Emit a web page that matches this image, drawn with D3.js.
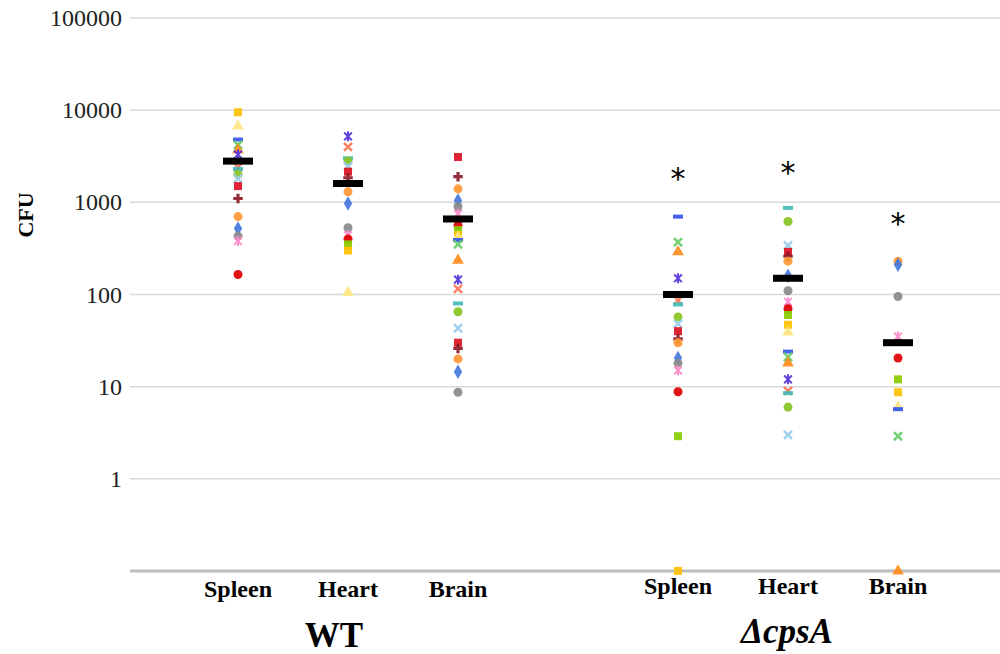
<!DOCTYPE html>
<html>
<head>
<meta charset="utf-8">
<script src="https://cdn.jsdelivr.net/npm/d3@7"></script>
<style>
  body { margin: 0; background: #fff; }
  svg { display: block; }
  .tick-label { font-family: "Liberation Serif", serif; font-size: 24px; fill: #222; }
  .cat-label { font-family: "Liberation Serif", serif; font-size: 24px; font-weight: bold; fill: #000; }
  .grp-label { font-family: "Liberation Serif", serif; font-size: 35px; font-weight: bold; fill: #000; }
</style>
</head>
<body>
<div id="chart"></div>
<script>
/* CFU per organ, WT vs ΔcpsA, one marker per animal */

// categories (an empty slot between the two strains)
const categories = ['WT-Spleen', 'WT-Heart', 'WT-Brain', 'gap', 'KO-Spleen', 'KO-Heart', 'KO-Brain']
const catLabels = ['Spleen', 'Heart', 'Brain', '', 'Spleen', 'Heart', 'Brain']

// the values (0.1 = sits on the axis, i.e. 0 CFU)
const wtSpleen = [9500, 6700, 4800, 4200, 3700, 3300, 2400, 2300, 2000, 1800, 1500, 1100, 700, 520, 430, 380, 165]
const wtHeart = [5200, 4000, 3000, 2800, 2450, 2150, 1850, 1300, 970, 530, 440, 400, 350, 300, 105]
const wtBrain = [3100, 1900, 1400, 1050, 900, 750, 560, 500, 440, 420, 390, 350, 235, 145, 115, 80, 65, 43, 30, 26, 20, 14.5, 8.7]
const koSpleen = [700, 370, 290, 150, 86, 78, 57, 48, 40, 33, 30, 20.5, 18, 15, 8.8, 2.9, 0.1]
const koHeart = [870, 620, 340, 290, 260, 230, 160, 110, 83, 70, 60, 47, 39, 24, 21, 18, 12, 9, 8.5, 6, 3]
const koBrain = [230, 210, 95, 35, 20.5, 12, 8.7, 6, 5.7, 2.9, 0.1]
const series = [wtSpleen, wtHeart, wtBrain, [], koSpleen, koHeart, koBrain]

// mean bars and significance marks
const means = [2800, 1600, 660, null, 100, 150, 30]
const stars = [null, null, null, null, 2080, 2430, 670]

const yTicks = [1, 10, 100, 1000, 10000, 100000]

// excel-ish marker palette
const markers = [
	{shape: 'square', color: '#ffc000'},
	{shape: 'triangle', color: '#ffe680'},
	{shape: 'dash', color: '#3355ee'},
	{shape: 'x', color: '#66cc66'},
	{shape: 'triangle', color: '#ff8c1a'},
	{shape: 'star', color: '#5533dd'},
	{shape: 'x', color: '#ff7755'},
	{shape: 'dash', color: '#44bbbb'},
	{shape: 'circle', color: '#88c424'},
	{shape: 'x', color: '#99ccee'},
	{shape: 'square', color: '#dd1122'},
	{shape: 'plus', color: '#8b1a2a'},
	{shape: 'circle', color: '#ff9933'},
	{shape: 'diamond', color: '#4477dd'},
	{shape: 'circle', color: '#8a8a8a'},
	{shape: 'star', color: '#ff88cc'},
	{shape: 'circle', color: '#dd0000'},
	{shape: 'square', color: '#88cc00'}
]

const width = 1000
const height = 654

const svg = d3.select('#chart').append('svg')
	.attr('width', width)
	.attr('height', height)

const x = d3.scalePoint()
	.domain(categories)
	.range([238, 898])

const y = d3.scaleLog()
	.domain([0.1, 100000])
	.range([571, 18])

//gridlines
svg.append('g').selectAll('line')
	.data(yTicks)
	.join('line')
	.attr('x1', 130).attr('x2', width)
	.attr('y1', d => y(d)).attr('y2', d => y(d))
	.attr('stroke', '#d9d9d9')
	.attr('stroke-width', 1.5)

//bottom axis line
svg.append('line')
	.attr('x1', 130).attr('x2', width)
	.attr('y1', y(0.1)).attr('y2', y(0.1))
	.attr('stroke', '#bdbdbd')
	.attr('stroke-width', 3)

//y labels
svg.append('g').selectAll('text')
	.data(yTicks)
	.join('text')
	.attr('class', 'tick-label')
	.attr('x', 122)
	.attr('y', d => y(d) + 8)
	.attr('text-anchor', 'end')
	.text(d => d)

svg.append('text')
	.attr('class', 'cat-label')
	.attr('transform', 'translate(33,215) rotate(-90)')
	.attr('text-anchor', 'middle')
	.style('font-size', '22px')
	.text('CFU')

//category labels
svg.append('g').selectAll('text')
	.data(categories)
	.join('text')
	.attr('class', 'cat-label')
	.attr('x', d => x(d))
	.attr('y', (d, i) => i < 3 ? 597 : 594)
	.attr('text-anchor', 'middle')
	.text((d, i) => catLabels[i])

svg.append('text')
	.attr('class', 'grp-label')
	.attr('x', 334).attr('y', 647)
	.attr('text-anchor', 'middle')
	.text('WT')

svg.append('text')
	.attr('class', 'grp-label')
	.attr('x', 787).attr('y', 643)
	.attr('text-anchor', 'middle')
	.style('font-style', 'italic')
	.text('\u0394cpsA')

//marker path
const symbolFor = {
	square: d3.symbolSquare,
	triangle: d3.symbolTriangle,
	circle: d3.symbolCircle,
	diamond: d3.symbolDiamond,
	plus: d3.symbolCross,
	x: d3.symbolX
}
function drawMarker(g, m) {
	if (m.shape === 'dash') {
		g.append('rect').attr('x', -5).attr('y', -2).attr('width', 10).attr('height', 4).attr('fill', m.color)
	} else if (m.shape === 'star') {
		g.append('path').attr('d', d3.symbol(d3.symbolX, 40)()).attr('stroke', m.color).attr('stroke-width', 2).attr('fill', 'none')
		g.append('line').attr('y1', -5).attr('y2', 5).attr('stroke', m.color).attr('stroke-width', 2)
	} else if (m.shape === 'x') {
		g.append('path').attr('d', d3.symbol(d3.symbolX, 45)()).attr('stroke', m.color).attr('stroke-width', 2.5).attr('fill', 'none')
	} else if (m.shape === 'plus') {
		g.append('path').attr('d', d3.symbol(d3.symbolCross, 50)()).attr('fill', m.color)
	} else {
		const size = m.shape === 'triangle' ? 60 : m.shape === 'diamond' ? 60 : 64
		g.append('path').attr('d', d3.symbol(symbolFor[m.shape], size)()).attr('fill', m.color)
	}
}

const pointsG = svg.append('g')
categories.forEach(function(c, ci) {
	series[ci].forEach(function(v, i) {
		const g = pointsG.append('g')
			.attr('transform', `translate(${x(c)},${y(v)})`)
			.style('opacity', 0.92)
		drawMarker(g, markers[(i + ci * 5) % markers.length])
	})
})

//mean bars
svg.append('g').selectAll('rect')
	.data(categories.filter((c, i) => means[i] !== null))
	.join('rect')
	.attr('x', d => x(d) - 15)
	.attr('y', d => y(means[categories.indexOf(d)]) - 3.5)
	.attr('width', 30)
	.attr('height', 7)
	.attr('fill', '#000')

//asterisks
svg.append('g').selectAll('text')
	.data(categories.filter((c, i) => stars[i] !== null))
	.join('text')
	.attr('x', d => x(d))
	.attr('y', d => y(stars[categories.indexOf(d)]) + 16)
	.attr('text-anchor', 'middle')
	.style('font-family', '"DejaVu Sans", sans-serif')
	.style('font-size', '30px')
	.text('*')
</script>
</body>
</html>
